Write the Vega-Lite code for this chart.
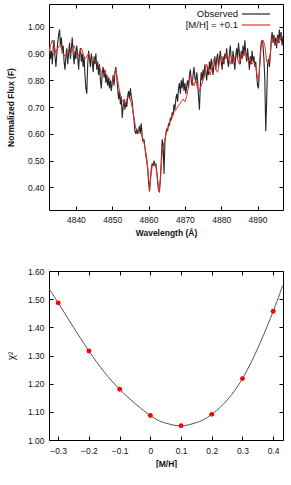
{
"$schema": "https://vega.github.io/schema/vega-lite/v6.json",
"padding": {"left": 5, "top": 3, "right": 8, "bottom": 0},
"spacing": 29,
"datasets": {
"obs": [
{"w":4832.50,"f":0.90},{"w":4832.75,"f":0.93},{"w":4833.00,"f":0.88},{"w":4833.25,"f":0.91},{"w":4833.50,"f":0.86},{"w":4833.75,"f":0.92},{"w":4834.00,"f":0.95},{"w":4834.25,"f":0.89},{"w":4834.50,"f":0.85},{"w":4834.75,"f":0.90},
{"w":4835.00,"f":0.94},{"w":4835.25,"f":0.97},{"w":4835.50,"f":0.99},{"w":4835.75,"f":0.93},{"w":4836.00,"f":0.96},{"w":4836.25,"f":0.90},{"w":4836.50,"f":0.93},{"w":4836.75,"f":0.87},{"w":4837.00,"f":0.84},{"w":4837.25,"f":0.89},
{"w":4837.50,"f":0.92},{"w":4837.75,"f":0.86},{"w":4838.00,"f":0.90},{"w":4838.25,"f":0.94},{"w":4838.50,"f":0.88},{"w":4838.75,"f":0.92},{"w":4839.00,"f":0.96},{"w":4839.25,"f":0.90},{"w":4839.50,"f":0.86},{"w":4839.75,"f":0.91},
{"w":4840.00,"f":0.88},{"w":4840.25,"f":0.93},{"w":4840.50,"f":0.89},{"w":4840.75,"f":0.84},{"w":4841.00,"f":0.90},{"w":4841.25,"f":0.92},{"w":4841.50,"f":0.87},{"w":4841.75,"f":0.90},{"w":4842.00,"f":0.85},{"w":4842.25,"f":0.89},
{"w":4842.50,"f":0.82},{"w":4842.75,"f":0.77},{"w":4843.00,"f":0.75},{"w":4843.25,"f":0.86},{"w":4843.50,"f":0.91},{"w":4843.75,"f":0.88},{"w":4844.00,"f":0.85},{"w":4844.25,"f":0.90},{"w":4844.50,"f":0.87},{"w":4844.75,"f":0.83},
{"w":4845.00,"f":0.89},{"w":4845.25,"f":0.86},{"w":4845.50,"f":0.90},{"w":4845.75,"f":0.84},{"w":4846.00,"f":0.87},{"w":4846.25,"f":0.82},{"w":4846.50,"f":0.86},{"w":4846.75,"f":0.80},{"w":4847.00,"f":0.77},{"w":4847.25,"f":0.83},
{"w":4847.50,"f":0.85},{"w":4847.75,"f":0.81},{"w":4848.00,"f":0.84},{"w":4848.25,"f":0.79},{"w":4848.50,"f":0.82},{"w":4848.75,"f":0.78},{"w":4849.00,"f":0.81},{"w":4849.25,"f":0.77},{"w":4849.50,"f":0.80},{"w":4849.75,"f":0.76},
{"w":4850.00,"f":0.79},{"w":4850.25,"f":0.82},{"w":4850.50,"f":0.78},{"w":4850.75,"f":0.83},{"w":4851.00,"f":0.85},{"w":4851.25,"f":0.81},{"w":4851.50,"f":0.77},{"w":4851.75,"f":0.73},{"w":4852.00,"f":0.76},{"w":4852.25,"f":0.71},
{"w":4852.50,"f":0.74},{"w":4852.75,"f":0.66},{"w":4853.00,"f":0.70},{"w":4853.25,"f":0.73},{"w":4853.50,"f":0.69},{"w":4853.75,"f":0.72},{"w":4854.00,"f":0.70},{"w":4854.25,"f":0.74},{"w":4854.50,"f":0.76},{"w":4854.75,"f":0.73},
{"w":4855.00,"f":0.77},{"w":4855.25,"f":0.74},{"w":4855.50,"f":0.72},{"w":4855.75,"f":0.68},{"w":4856.00,"f":0.65},{"w":4856.25,"f":0.61},{"w":4856.50,"f":0.60},{"w":4856.75,"f":0.62},{"w":4857.00,"f":0.60},{"w":4857.25,"f":0.61},
{"w":4857.50,"f":0.63},{"w":4857.75,"f":0.60},{"w":4858.00,"f":0.64},{"w":4858.25,"f":0.59},{"w":4858.50,"f":0.57},{"w":4858.75,"f":0.58},{"w":4859.00,"f":0.55},{"w":4859.25,"f":0.52},{"w":4859.50,"f":0.50},{"w":4859.75,"f":0.47},
{"w":4860.00,"f":0.42},{"w":4860.25,"f":0.385},{"w":4860.50,"f":0.43},{"w":4860.75,"f":0.47},{"w":4861.00,"f":0.49},{"w":4861.25,"f":0.48},{"w":4861.50,"f":0.50},{"w":4861.75,"f":0.48},{"w":4862.00,"f":0.49},{"w":4862.25,"f":0.46},
{"w":4862.50,"f":0.42},{"w":4862.75,"f":0.39},{"w":4863.00,"f":0.385},{"w":4863.25,"f":0.43},{"w":4863.50,"f":0.50},{"w":4863.75,"f":0.58},{"w":4864.00,"f":0.56},{"w":4864.25,"f":0.45},{"w":4864.50,"f":0.57},{"w":4864.75,"f":0.60},
{"w":4865.00,"f":0.62},{"w":4865.25,"f":0.61},{"w":4865.50,"f":0.64},{"w":4865.75,"f":0.63},{"w":4866.00,"f":0.66},{"w":4866.25,"f":0.65},{"w":4866.50,"f":0.68},{"w":4866.75,"f":0.67},{"w":4867.00,"f":0.71},{"w":4867.25,"f":0.69},
{"w":4867.50,"f":0.73},{"w":4867.75,"f":0.75},{"w":4868.00,"f":0.72},{"w":4868.25,"f":0.77},{"w":4868.50,"f":0.79},{"w":4868.75,"f":0.75},{"w":4869.00,"f":0.80},{"w":4869.25,"f":0.77},{"w":4869.50,"f":0.81},{"w":4869.75,"f":0.76},
{"w":4870.00,"f":0.79},{"w":4870.25,"f":0.75},{"w":4870.50,"f":0.78},{"w":4870.75,"f":0.80},{"w":4871.00,"f":0.77},{"w":4871.25,"f":0.82},{"w":4871.50,"f":0.84},{"w":4871.75,"f":0.80},{"w":4872.00,"f":0.78},{"w":4872.25,"f":0.82},
{"w":4872.50,"f":0.85},{"w":4872.75,"f":0.81},{"w":4873.00,"f":0.79},{"w":4873.25,"f":0.83},{"w":4873.50,"f":0.80},{"w":4873.75,"f":0.74},{"w":4874.00,"f":0.69},{"w":4874.25,"f":0.78},{"w":4874.50,"f":0.83},{"w":4874.75,"f":0.80},
{"w":4875.00,"f":0.84},{"w":4875.25,"f":0.81},{"w":4875.50,"f":0.86},{"w":4875.75,"f":0.83},{"w":4876.00,"f":0.80},{"w":4876.25,"f":0.85},{"w":4876.50,"f":0.82},{"w":4876.75,"f":0.87},{"w":4877.00,"f":0.84},{"w":4877.25,"f":0.88},
{"w":4877.50,"f":0.85},{"w":4877.75,"f":0.82},{"w":4878.00,"f":0.86},{"w":4878.25,"f":0.89},{"w":4878.50,"f":0.84},{"w":4878.75,"f":0.88},{"w":4879.00,"f":0.90},{"w":4879.25,"f":0.85},{"w":4879.50,"f":0.88},{"w":4879.75,"f":0.91},
{"w":4880.00,"f":0.87},{"w":4880.25,"f":0.84},{"w":4880.50,"f":0.89},{"w":4880.75,"f":0.86},{"w":4881.00,"f":0.90},{"w":4881.25,"f":0.88},{"w":4881.50,"f":0.92},{"w":4881.75,"f":0.87},{"w":4882.00,"f":0.85},{"w":4882.25,"f":0.90},
{"w":4882.50,"f":0.93},{"w":4882.75,"f":0.88},{"w":4883.00,"f":0.86},{"w":4883.25,"f":0.91},{"w":4883.50,"f":0.87},{"w":4883.75,"f":0.84},{"w":4884.00,"f":0.89},{"w":4884.25,"f":0.92},{"w":4884.50,"f":0.88},{"w":4884.75,"f":0.94},
{"w":4885.00,"f":0.90},{"w":4885.25,"f":0.86},{"w":4885.50,"f":0.91},{"w":4885.75,"f":0.88},{"w":4886.00,"f":0.93},{"w":4886.25,"f":0.89},{"w":4886.50,"f":0.95},{"w":4886.75,"f":0.90},{"w":4887.00,"f":0.87},{"w":4887.25,"f":0.92},
{"w":4887.50,"f":0.88},{"w":4887.75,"f":0.84},{"w":4888.00,"f":0.89},{"w":4888.25,"f":0.86},{"w":4888.50,"f":0.91},{"w":4888.75,"f":0.87},{"w":4889.00,"f":0.89},{"w":4889.25,"f":0.85},{"w":4889.50,"f":0.87},{"w":4889.75,"f":0.82},
{"w":4890.00,"f":0.78},{"w":4890.25,"f":0.77},{"w":4890.50,"f":0.84},{"w":4890.75,"f":0.90},{"w":4891.00,"f":0.94},{"w":4891.25,"f":0.95},{"w":4891.50,"f":0.93},{"w":4891.75,"f":0.88},{"w":4892.00,"f":0.80},{"w":4892.25,"f":0.61},
{"w":4892.50,"f":0.72},{"w":4892.75,"f":0.86},{"w":4893.00,"f":0.88},{"w":4893.25,"f":0.85},{"w":4893.50,"f":0.89},{"w":4893.75,"f":0.95},{"w":4894.00,"f":0.98},{"w":4894.25,"f":0.94},{"w":4894.50,"f":0.97},{"w":4894.75,"f":0.93},
{"w":4895.00,"f":0.96},{"w":4895.25,"f":0.92},{"w":4895.50,"f":0.97},{"w":4895.75,"f":0.94},{"w":4896.00,"f":0.99},{"w":4896.25,"f":0.95},{"w":4896.50,"f":0.98},{"w":4896.75,"f":0.93},{"w":4897.00,"f":0.96}
],
"mod": [
{"w":4832.5,"f":0.90},{"w":4833.0,"f":0.93},{"w":4833.5,"f":0.95},{"w":4834.0,"f":0.93},{"w":4834.5,"f":0.90},{"w":4835.0,"f":0.92},{"w":4835.5,"f":0.93},{"w":4836.0,"f":0.92},{"w":4836.5,"f":0.90},{"w":4837.0,"f":0.89},
{"w":4837.5,"f":0.90},{"w":4838.0,"f":0.91},{"w":4838.5,"f":0.90},{"w":4839.0,"f":0.91},{"w":4839.5,"f":0.93},{"w":4840.0,"f":0.91},{"w":4840.5,"f":0.89},{"w":4841.0,"f":0.90},{"w":4841.5,"f":0.92},{"w":4842.0,"f":0.90},
{"w":4842.5,"f":0.88},{"w":4843.0,"f":0.89},{"w":4843.5,"f":0.90},{"w":4844.0,"f":0.88},{"w":4844.5,"f":0.87},{"w":4845.0,"f":0.88},{"w":4845.5,"f":0.87},{"w":4846.0,"f":0.86},{"w":4846.5,"f":0.85},{"w":4847.0,"f":0.83},
{"w":4847.5,"f":0.82},{"w":4848.0,"f":0.83},{"w":4848.5,"f":0.82},{"w":4849.0,"f":0.81},{"w":4849.5,"f":0.80},{"w":4850.0,"f":0.79},{"w":4850.5,"f":0.82},{"w":4851.0,"f":0.84},{"w":4851.5,"f":0.80},{"w":4852.0,"f":0.76},
{"w":4852.5,"f":0.73},{"w":4853.0,"f":0.72},{"w":4853.5,"f":0.71},{"w":4854.0,"f":0.73},{"w":4854.5,"f":0.74},{"w":4855.0,"f":0.73},{"w":4855.5,"f":0.70},{"w":4856.0,"f":0.66},{"w":4856.5,"f":0.62},{"w":4857.0,"f":0.61},
{"w":4857.5,"f":0.61},{"w":4858.0,"f":0.60},{"w":4858.5,"f":0.58},{"w":4859.0,"f":0.55},{"w":4859.5,"f":0.51},{"w":4860.0,"f":0.44},{"w":4860.3,"f":0.39},{"w":4860.6,"f":0.44},{"w":4861.0,"f":0.48},{"w":4861.5,"f":0.49},
{"w":4862.0,"f":0.48},{"w":4862.4,"f":0.44},{"w":4862.9,"f":0.385},{"w":4863.3,"f":0.44},{"w":4863.7,"f":0.52},{"w":4864.0,"f":0.55},{"w":4864.5,"f":0.58},{"w":4865.0,"f":0.61},{"w":4865.5,"f":0.63},{"w":4866.0,"f":0.65},
{"w":4866.5,"f":0.66},{"w":4867.0,"f":0.68},{"w":4867.5,"f":0.69},{"w":4868.0,"f":0.70},{"w":4868.5,"f":0.71},{"w":4869.0,"f":0.72},{"w":4869.5,"f":0.73},{"w":4870.0,"f":0.72},{"w":4870.5,"f":0.74},{"w":4871.0,"f":0.78},
{"w":4871.5,"f":0.82},{"w":4872.0,"f":0.80},{"w":4872.5,"f":0.78},{"w":4873.0,"f":0.80},{"w":4873.5,"f":0.77},{"w":4874.0,"f":0.76},{"w":4874.5,"f":0.78},{"w":4875.0,"f":0.80},{"w":4875.5,"f":0.83},{"w":4876.0,"f":0.86},
{"w":4876.5,"f":0.84},{"w":4877.0,"f":0.82},{"w":4877.5,"f":0.86},{"w":4878.0,"f":0.88},{"w":4878.5,"f":0.84},{"w":4879.0,"f":0.83},{"w":4879.5,"f":0.87},{"w":4880.0,"f":0.89},{"w":4880.5,"f":0.87},{"w":4881.0,"f":0.88},
{"w":4881.5,"f":0.90},{"w":4882.0,"f":0.88},{"w":4882.5,"f":0.86},{"w":4883.0,"f":0.89},{"w":4883.5,"f":0.87},{"w":4884.0,"f":0.90},{"w":4884.5,"f":0.88},{"w":4885.0,"f":0.86},{"w":4885.5,"f":0.90},{"w":4886.0,"f":0.89},
{"w":4886.5,"f":0.91},{"w":4887.0,"f":0.89},{"w":4887.5,"f":0.87},{"w":4888.0,"f":0.88},{"w":4888.5,"f":0.86},{"w":4889.0,"f":0.87},{"w":4889.5,"f":0.85},{"w":4890.0,"f":0.81},{"w":4890.3,"f":0.80},{"w":4890.7,"f":0.87},
{"w":4891.0,"f":0.93},{"w":4891.5,"f":0.95},{"w":4892.0,"f":0.93},{"w":4892.5,"f":0.87},{"w":4893.0,"f":0.86},{"w":4893.5,"f":0.90},{"w":4894.0,"f":0.96},{"w":4894.5,"f":0.95},{"w":4895.0,"f":0.93},{"w":4895.5,"f":0.96},
{"w":4896.0,"f":0.94},{"w":4896.5,"f":0.97},{"w":4897.0,"f":0.96}
],
"chi": [
{"m":-0.3,"c":1.487},{"m":-0.2,"c":1.316},{"m":-0.1,"c":1.180},{"m":0.0,"c":1.087},{"m":0.1,"c":1.051},{"m":0.2,"c":1.091},{"m":0.3,"c":1.218},{"m":0.4,"c":1.457}
],
"fit": [
{"m":-0.33,"c":1.536},{"m":-0.3,"c":1.487},{"m":-0.2,"c":1.316},{"m":-0.1,"c":1.180},{"m":0.0,"c":1.087},{"m":0.05,"c":1.060},{"m":0.1,"c":1.050},{"m":0.15,"c":1.062},{"m":0.2,"c":1.091},{"m":0.3,"c":1.218},{"m":0.4,"c":1.457},{"m":0.43,"c":1.548}
]
},
"vconcat": [
{
"width": 234, "height": 206,
"layer": [
{
"data": {"name": "obs"},
"mark": {"type": "line", "strokeWidth": 1.1, "clip": true},
"encoding": {
"x": {"field": "w", "type": "quantitative", "scale": {"domain": [4832.6, 4897], "nice": false, "zero": false},
"axis": {"orient": "bottom", "title": "Wavelength (Å)", "values": [4840,4850,4860,4870,4880,4890], "format": "d", "minExtent": 14, "maxExtent": 14, "titlePadding": 4}},
"y": {"field": "f", "type": "quantitative", "scale": {"domain": [0.316, 1.085], "nice": false, "zero": false},
"axis": {"orient": "left", "title": "Normalized Flux (F)", "values": [0.4,0.5,0.6,0.7,0.8,0.9,1.0], "format": ".2f", "minExtent": 30, "maxExtent": 30, "titlePadding": 4}},
"color": {"datum": "Observed", "type": "nominal",
"scale": {"domain": ["Observed", "[M/H] = +0.1"], "range": ["#262626", "#e8302c"]},
"legend": {"title": null, "orient": "none", "legendX": 201, "legendY": 4, "symbolType": "M-2.8,0H2.8", "symbolSize": 100, "symbolStrokeWidth": 1.2, "labelFontSize": 9.5, "labelColor": "#111", "labelAlign": "right", "labelOffset": -24, "rowPadding": 0,
"labelExpr": "datum.label == 'Observed' ? '\u00a0\u00a0\u00a0\u00a0Observed' : datum.label"}}
}
},
{
"data": {"name": "mod"},
"mark": {"type": "line", "strokeWidth": 1, "clip": true},
"encoding": {
"x": {"field": "w", "type": "quantitative",
"axis": {"orient": "top", "title": null, "labels": false, "values": [4840,4850,4860,4870,4880,4890], "minExtent": 0, "maxExtent": 0}},
"y": {"field": "f", "type": "quantitative",
"axis": {"orient": "right", "title": null, "labels": false, "values": [0.4,0.5,0.6,0.7,0.8,0.9,1.0], "minExtent": 0, "maxExtent": 0}},
"color": {"datum": "[M/H] = +0.1", "type": "nominal"}
}
}
],
"resolve": {"axis": {"x": "independent", "y": "independent"}}
},
{
"width": 234, "height": 169,
"layer": [
{
"data": {"name": "fit"},
"mark": {"type": "line", "strokeWidth": 1, "color": "#555555", "interpolate": "natural", "clip": true},
"encoding": {
"x": {"field": "m", "type": "quantitative", "scale": {"domain": [-0.33, 0.432], "nice": false, "zero": false},
"axis": {"orient": "bottom", "title": "[M/H]", "values": [-0.3,-0.2,-0.1,0,0.1,0.2,0.3,0.4], "format": "~g", "minExtent": 15, "maxExtent": 15, "titlePadding": 4, "labelPadding": 10}},
"y": {"field": "c", "type": "quantitative", "scale": {"domain": [1.0, 1.6], "nice": false, "zero": false},
"axis": {"orient": "left", "title": "χ²", "values": [1.0,1.1,1.2,1.3,1.4,1.5,1.6], "format": ".2f", "minExtent": 30, "maxExtent": 30, "titlePadding": 3, "titleFontWeight": "normal", "titleFontSize": 10}}
}
},
{
"data": {"name": "chi"},
"mark": {"type": "circle", "size": 24, "color": "#ff0000", "opacity": 1},
"encoding": {
"x": {"field": "m", "type": "quantitative",
"axis": {"orient": "top", "title": null, "labels": false, "values": [-0.3,-0.2,-0.1,0,0.1,0.2,0.3,0.4], "minExtent": 0, "maxExtent": 0}},
"y": {"field": "c", "type": "quantitative",
"axis": {"orient": "right", "title": null, "labels": false, "values": [1.0,1.1,1.2,1.3,1.4,1.5,1.6], "minExtent": 0, "maxExtent": 0}}
}
}
],
"resolve": {"axis": {"x": "independent", "y": "independent"}}
}
],
"config": {
"font": "Liberation Sans",
"view": {"stroke": "#000000", "strokeWidth": 1},
"axis": {"domain": false, "grid": false, "ticks": true, "tickSize": -4, "tickColor": "#000000", "tickWidth": 1,
"labelFontSize": 8.5, "labelColor": "#111111", "labelPadding": 9,
"titleFontSize": 8.5, "titleFontWeight": "bold", "titleColor": "#111111"},
"legend": {"padding": 0}
}
}
